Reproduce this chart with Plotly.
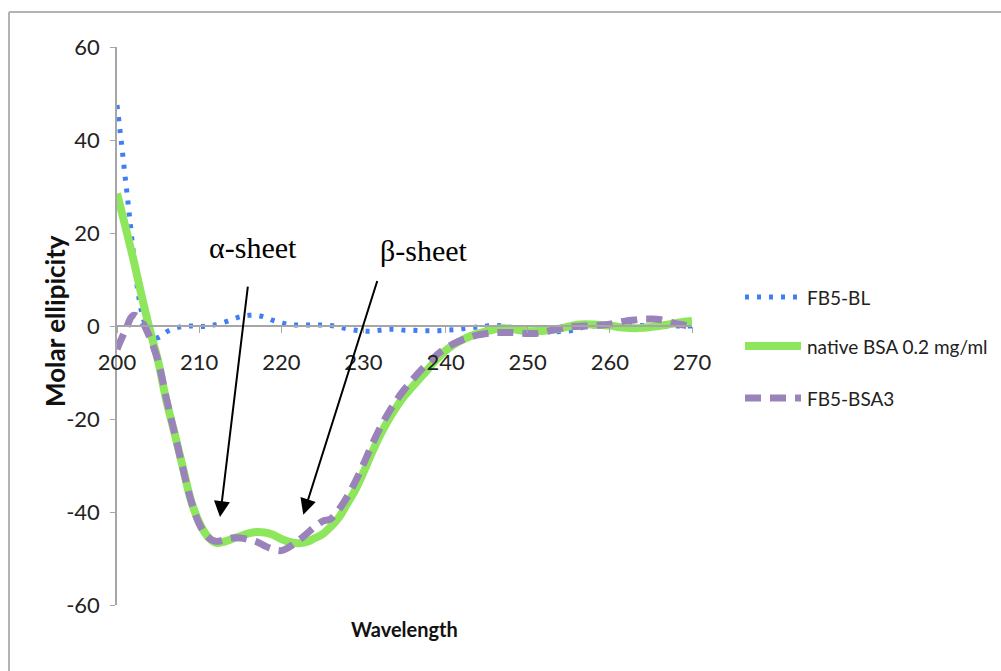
import plotly.graph_objects as go

# Wavelength grid (nm) and molar ellipticity for each sample
wl_bl = [200, 200.5, 201, 201.5, 202, 202.5, 203, 203.5, 204, 204.5, 205, 205.5, 206, 207, 208,
         209, 210, 211, 212, 213, 214, 215, 216, 217, 218, 219, 220, 221, 222, 223, 224, 225,
         226, 227, 228, 229, 230, 231, 232, 233, 234, 235, 236, 237, 238, 239, 240, 241, 242,
         243, 244, 245, 246, 247, 248, 249, 250, 251, 252, 253, 254, 255, 256, 257, 258, 260,
         262, 264, 266, 268, 270]
fb5_bl = [47.5, 40, 32, 24, 15.5, 8, 3, 0, -2.0, -2.6, -2.5, -2.0, -1.3, -0.5, -0.1,
          0, -0.1, 0, 0.3, 0.8, 1.4, 2.0, 2.3, 2.3, 1.9, 1.2, 0.7, 0.3, 0.2, 0.2, 0.2, 0.2,
          0.1, -0.2, -0.6, -0.9, -1.1, -1.1, -0.9, -0.7, -0.7, -0.9, -0.9, -1.0, -1.0, -1.0, -0.9,
          -0.8, -0.6, -0.4, -0.2, 0, 0.1, 0, -0.3, -0.6, -0.9, -1.0, -1.1, -1.2, -1.2, -1.1, -0.6,
          -0.2, 0, 0.1, 0.1, 0.1, 0, 0, 0]

wl = list(range(200, 271))
native_bsa = [28.5, 21.5, 14.3, 6.5, -0.8, -7.5, -16.0, -23.0, -30.3, -37.5, -42.2, -45.2, -46.6,
              -46.4, -45.8, -45.2, -44.6, -44.3, -44.4, -44.9, -45.8, -46.4, -46.7, -46.5, -45.7,
              -44.8, -43.2, -41.2, -38.3, -35.3, -31.5, -27.4, -23.6, -20.3, -17.5, -15.0, -13.0,
              -11.0, -9.0, -7.0, -5.3, -4.0, -3.0, -2.2, -1.6, -1.1, -0.7, -0.5, -0.6, -0.9, -1.1,
              -1.1, -1.0, -0.8, -0.5, -0.1, 0.3, 0.4, 0.3, 0.2, 0.1, -0.2, -0.4, -0.5, -0.4, -0.2,
              0, 0.3, 0.6, 0.9, 1.1]
fb5_bsa3 = [-5.0, -1.0, 2.3, 1.0, -2.5, -7.5, -15.5, -23.0, -30.5, -37.5, -42.5, -45.3, -46.3,
            -46.0, -45.6, -45.6, -45.9, -46.4, -47.3, -48.0, -48.3, -47.5, -46.3, -44.8, -43.3,
            -42.0, -41.5, -39.5, -36.8, -33.5, -29.7, -25.7, -22.0, -18.8, -16.0, -13.6, -11.5,
            -9.5, -7.8, -6.1, -4.8, -3.8, -3.0, -2.4, -1.9, -1.6, -1.4, -1.4, -1.4, -1.5, -1.6,
            -1.6, -1.3, -0.9, -0.5, -0.2, -0.1, 0, 0.1, 0.2, 0.4, 0.8, 1.1, 1.3, 1.5, 1.5, 1.4,
            1.0, 0.5, 0.2, 0]

x_ticks = [200, 210, 220, 230, 240, 250, 260, 270]
y_ticks = [-60, -40, -20, 0, 20, 40, 60]
y_tick_text = ["-60", "-40", "-20", "0", "20", "40", "60"]

TICK_FONT = "Lato, sans-serif"
AXIS_GREY = "#a6a6a6"

series = [
    ("FB5-BL", wl_bl, fb5_bl, dict(color="#3f7ef4", width=5, dash="4px,8px")),
    ("native BSA 0.2 mg/ml", wl, native_bsa, dict(color="#8ee65c", width=8)),
    ("FB5-BSA3", wl, fb5_bsa3, dict(color="#9a82bb", width=7, dash="16px,9px")),
]

fig = go.Figure()
for name, xs, ys, style in series:
    fig.add_trace(go.Scatter(x=xs, y=ys, name=name, mode="lines", line_shape="spline",
                             line=style, showlegend=False))

L, R, T, B = 117, 309, 47, 66
PW, PH = 1001 - L - R, 671 - T - B

def px(xp):
    return (xp - L) / PW

def py(yp):
    return (671 - B - yp) / PH

fig.update_layout(
    width=1001, height=671,
    margin=dict(l=L, r=R, t=T, b=B, autoexpand=False),
    paper_bgcolor="white", plot_bgcolor="white",
    xaxis=dict(range=[200, 270], tickvals=x_ticks, ticks="outside", ticklen=6,
               tickcolor=AXIS_GREY, showline=True, linecolor=AXIS_GREY, linewidth=1.5,
               showgrid=False, zeroline=False, anchor="free", position=0.5,
               ticklabelstandoff=11,
               tickfont=dict(family=TICK_FONT, size=22, color="#222")),
    yaxis=dict(range=[-60, 60], tickvals=y_ticks, ticktext=y_tick_text, ticks="outside",
               ticklen=5, tickcolor=AXIS_GREY, showline=True, linecolor=AXIS_GREY,
               linewidth=1.5, showgrid=False, zeroline=False, ticklabelstandoff=6,
               tickfont=dict(family=TICK_FONT, size=22, color="#222")),
)

# Key on the right: a line sample and the series name for each trace
key_rows = [297, 346, 398]
for (name, _, _, style), row in zip(series, key_rows):
    fig.add_shape(type="line", xref="paper", yref="paper",
                  x0=px(745), x1=px(801), y0=py(row), y1=py(row), line=style)
    fig.add_annotation(text=name, xref="paper", yref="paper", x=px(805), y=py(row),
                       xanchor="left", yanchor="middle", showarrow=False,
                       font=dict(family=TICK_FONT, size=19, color="#222"))

# Outer frame (left and top edges)
fig.add_shape(type="line", xref="paper", yref="paper", x0=px(9), x1=px(9), y0=py(12), y1=py(680),
              line=dict(color="#b3b3b3", width=2))
fig.add_shape(type="line", xref="paper", yref="paper", x0=px(9), x1=px(1010), y0=py(12), y1=py(12),
              line=dict(color="#b3b3b3", width=2))

# Axis titles
fig.add_annotation(text="<b>Molar ellipicity</b>", xref="paper", yref="paper",
                   x=px(55), y=py(321), xanchor="center", yanchor="middle", textangle=-90,
                   showarrow=False, font=dict(family=TICK_FONT, size=26, color="#111"))
fig.add_annotation(text="<b>Wavelength</b>", xref="paper", yref="paper", x=0.5, y=py(629),
                   xanchor="center", yanchor="middle", showarrow=False,
                   font=dict(family=TICK_FONT, size=20, color="#111"))

# Secondary-structure labels and arrows
SERIF = "Liberation Serif, Times New Roman, serif"
fig.add_annotation(text="α-sheet", x=216.6, y=16.8, showarrow=False,
                   font=dict(family=SERIF, size=30, color="black"))
fig.add_annotation(text="β-sheet", x=237.4, y=16.3, showarrow=False,
                   font=dict(family=SERIF, size=30, color="black"))
fig.add_annotation(text="", x=212.54, y=-41.1, ax=215.95, ay=8.8, axref="x", ayref="y",
                   showarrow=True, arrowhead=2, arrowsize=1.6, arrowwidth=2, arrowcolor="black")
fig.add_annotation(text="", x=222.68, y=-40.6, ax=231.74, ay=10.0, axref="x", ayref="y",
                   showarrow=True, arrowhead=2, arrowsize=1.6, arrowwidth=2, arrowcolor="black")

fig.write_html("out.html")
